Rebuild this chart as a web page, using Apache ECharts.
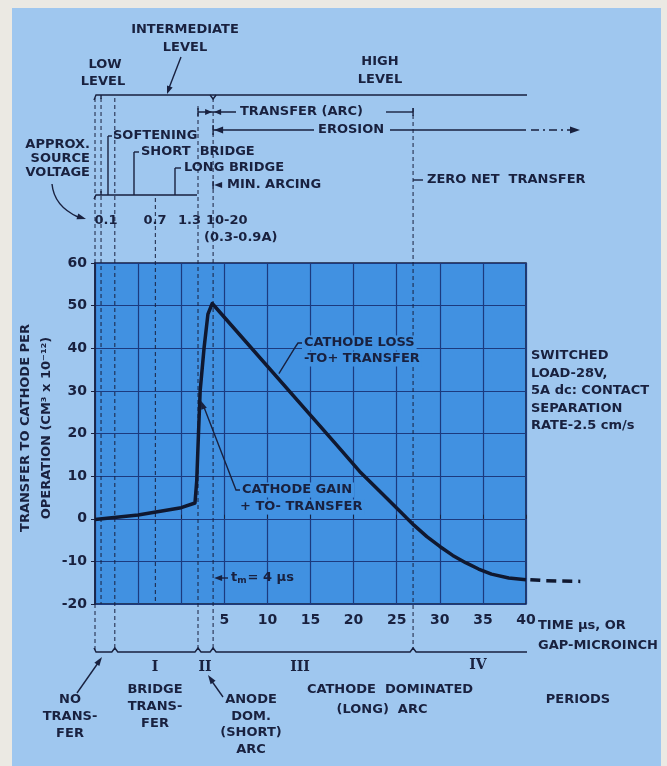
<!DOCTYPE html>
<html>
<head>
<meta charset="utf-8">
<script src="https://cdn.jsdelivr.net/npm/echarts@6/dist/echarts.min.js"></script>
<style>
html, body { margin: 0; padding: 0; background: #ebe9e3; }
#chart { width: 667px; height: 766px; }
</style>
</head>
<body>
<div id="chart"></div>
<script>
// transfer curve, x in axis units (the three left divisions stretch the first microseconds)
const curveX = [-10, -5, 0, 1.6, 1.8, 2.0, 2.2, 2.65, 3.1, 3.6, 18, 20.7, 23, 25.4, 27, 28.5, 30, 31.5, 33, 34.5, 36, 38, 40];
const curveY = [-0.2, 0.9, 2.6, 3.7, 8.8, 19.7, 30, 40, 48, 50.5, 17.4, 11.1, 6.5, 1.7, -1.5, -4.2, -6.5, -8.6, -10.3, -11.8, -13.0, -13.9, -14.3];
// dashed continuation past 40
const tailX = [40.5, 42, 44, 46.3];
const tailY = [-14.3, -14.5, -14.6, -14.7];

const xMin = -10, xMax = 40, xStep = 5, xFirstLabel = 5;
const yMin = -20, yMax = 60, yStep = 10;

// region boundaries (axis units): low level end, softening, 0.7V, 1.3V/bridge end, arc start, zero net transfer
const bLow = -9.3, bSoft = -7.7, b07 = -3.0, b13 = 1.95, bArc = 3.7, bZero = 26.9;

const INK = '#19213f';
const GRIDC = '#1c3a7e';
const PLOT = '#4191e1';
const PANEL = '#9fc7ef';
const OUTER = '#ebe9e3';
const FONT = '"DejaVu Sans", sans-serif';

const chart = echarts.init(document.getElementById('chart'));

chart.setOption({
    backgroundColor: PANEL,
    animation: false,
    grid: {
        left: 95, right: 141, top: 263, bottom: 162,
        show: true, backgroundColor: PLOT, borderColor: INK, borderWidth: 1.5
    },
    xAxis: {
        type: 'value', min: xMin, max: xMax, interval: xStep,
        axisLine: { show: false },
        axisTick: { show: true, inside: true, length: 4, lineStyle: { color: INK } },
        axisLabel: {
            color: INK, fontSize: 14, fontWeight: 'bold', fontFamily: FONT, margin: 9,
            formatter: v => v >= xFirstLabel ? String(v) : ''
        },
        splitLine: { show: true, lineStyle: { color: GRIDC, width: 1.2 } }
    },
    yAxis: {
        type: 'value', min: yMin, max: yMax, interval: yStep,
        axisLine: { show: true, onZero: false, lineStyle: { color: INK, width: 1.5 } },
        axisTick: { show: true, length: 4, lineStyle: { color: INK } },
        axisLabel: { color: INK, fontSize: 14, fontWeight: 'bold', fontFamily: FONT, margin: 8 },
        splitLine: { show: true, lineStyle: { color: GRIDC, width: 1.2 } }
    },
    series: [
        {
            type: 'line', z: 5, symbol: 'none',
            data: curveX.map((x, i) => [x, curveY[i]]),
            lineStyle: { color: '#10182f', width: 3.5, join: 'round' }
        }
    ]
});

const px = v => chart.convertToPixel({ xAxisIndex: 0 }, v);
const pt = (x, y) => chart.convertToPixel({ gridIndex: 0 }, [x, y]);

const g = [];
function txt(x, y, s, align, size, extra) {
    g.push({
        type: 'text', x: x, y: y, z: 20,
        style: Object.assign({
            text: s, fill: INK, font: 'bold ' + (size || 13) + 'px ' + FONT,
            align: align || 'left', verticalAlign: 'middle'
        }, extra || {})
    });
}
function poly(points, dash, w) {
    g.push({
        type: 'polyline', z: 12, shape: { points: points },
        style: { stroke: INK, fill: null, lineWidth: w || 1.4, lineDash: dash || null }
    });
}
function vdash(x, y1, y2) {
    g.push({
        type: 'line', z: 3, shape: { x1: x, y1: y1, x2: x, y2: y2 },
        style: { stroke: INK, lineWidth: 1, lineDash: [4, 3] }
    });
}
function head(tx, ty, fx, fy, len, w) {
    len = len || 8; w = w || 3;
    const dx = tx - fx, dy = ty - fy, d = Math.hypot(dx, dy);
    const ux = dx / d, uy = dy / d;
    const bx = tx - ux * len, by = ty - uy * len;
    g.push({
        type: 'polygon', z: 12,
        shape: { points: [[tx, ty], [bx - uy * w, by + ux * w], [bx + uy * w, by - ux * w]] },
        style: { fill: INK }
    });
}

// outer paper margins
g.push({ type: 'rect', z: 0, shape: { x: 0, y: 0, width: 12, height: 766 }, style: { fill: OUTER } });
g.push({ type: 'rect', z: 0, shape: { x: 0, y: 0, width: 667, height: 8 }, style: { fill: OUTER } });
g.push({ type: 'rect', z: 0, shape: { x: 661, y: 0, width: 6, height: 766 }, style: { fill: OUTER } });

const x0 = px(xMin), xLow = px(bLow), xSoft = px(bSoft), x07 = px(b07),
      x13 = px(b13), xArc = px(bArc), xZero = px(bZero), xEnd = px(xMax);
const yTop = pt(0, yMax)[1], yBot = pt(0, yMin)[1];

// dashed tail of the curve beyond the last grid line
g.push({
    type: 'polyline', z: 12, shape: { points: tailX.map((x, i) => pt(x, tailY[i])) },
    style: { stroke: '#10182f', fill: null, lineWidth: 3.5, lineDash: [10, 6] }
});

// vertical dashed region lines
vdash(x0, 98, yTop); vdash(x0, yBot, 650);
vdash(xLow, 98, yBot);
vdash(xSoft, 98, 650);
vdash(x07, 198, yBot);
vdash(x13, 106, 650);
vdash(xArc, 98, 650);
vdash(xZero, 108, 650);

// level bracket
poly([[x0 - 1, 100], [x0 + 1, 95], [xEnd + 1, 95]]);
poly([[xLow, 95], [xLow, 99]]);
poly([[xArc - 3, 95], [xArc, 99], [xArc + 3, 95]]);
txt(185, 30, 'INTERMEDIATE', 'center');
txt(185, 48, 'LEVEL', 'center');
poly([[181, 57], [169, 88]]);
head(167, 94, 181, 57);
txt(105, 65, 'LOW', 'center');
txt(103, 82, 'LEVEL', 'center');
txt(380, 62, 'HIGH', 'center');
txt(380, 80, 'LEVEL', 'center');

// transfer (arc) row
poly([[x13, 108], [x13, 116]]);
poly([[x13, 112], [236, 112]]);
head(xArc - 1, 112, x13, 112, 7, 3);
head(xArc + 1, 112, 236, 112, 7, 3);
txt(240, 112, 'TRANSFER (ARC)');
poly([[386, 112], [xZero, 112]]);
poly([[xZero, 108], [xZero, 116]]);

// erosion row
poly([[xArc, 125], [xArc, 135]]);
poly([[xArc, 130], [314, 130]]);
head(xArc + 1, 130, 314, 130, 9, 3.5);
txt(318, 130, 'EROSION');
poly([[390, 130], [xEnd, 130]]);
poly([[531, 130], [570, 130]], [8, 4, 2, 4]);
head(580, 130, 560, 130, 10, 3.5);

// voltage scale
poly([[x0 - 1, 199], [x0 + 1, 195], [x13 - 1, 195]]);
poly([[xLow, 195], [xLow, 191]]);
poly([[108, 136], [108, 195]]);
poly([[108, 136], [112, 136]]);
txt(113, 136, 'SOFTENING');
poly([[134, 152], [134, 195]]);
poly([[134, 152], [139, 152]]);
txt(141, 152, 'SHORT  BRIDGE');
poly([[175, 168], [175, 195]]);
poly([[175, 168], [181, 168]]);
txt(184, 168, 'LONG BRIDGE');
head(xArc + 1, 185, 226, 185, 8, 3);
poly([[xArc, 181], [xArc, 189]]);
txt(227, 185, 'MIN. ARCING');
poly([[xZero, 180], [423, 180]]);
txt(427, 180, 'ZERO NET  TRANSFER');

txt(90, 145, 'APPROX.', 'right');
txt(90, 159, 'SOURCE', 'right');
txt(90, 173, 'VOLTAGE', 'right');
g.push({
    type: 'bezierCurve', z: 12,
    shape: { x1: 52, y1: 184, x2: 78, y2: 217, cpx1: 54, cpy1: 206 },
    style: { stroke: INK, fill: null, lineWidth: 1.4 }
});
head(86, 219, 70, 214, 9, 3);

txt(106, 221, '0.1', 'center');
txt(155, 221, '0.7', 'center');
txt(201, 221, '1.3', 'right');
txt(206, 221, '10-20');
txt(204, 238, '(0.3-0.9A)');

// axis title
g.push({
    type: 'text', x: 36, y: 428, rotation: Math.PI / 2, z: 20,
    style: {
        text: 'TRANSFER TO CATHODE PER\nOPERATION (CM³ x 10⁻¹²)',
        fill: INK, font: 'bold 13px ' + FONT, align: 'center', verticalAlign: 'middle', lineHeight: 21
    }
});

// in-plot notes
const lossAt = pt(11.1, 33.6);
poly([[303, 343], [298, 343], [296, 346], [lossAt[0] + 2, lossAt[1] - 2]]);
txt(302, 343, 'CATHODE LOSS', 'left', 13, { backgroundColor: PLOT, padding: [1, 2] });
txt(302, 359, '-TO+ TRANSFER', 'left', 13, { backgroundColor: PLOT, padding: [1, 2] });

const gainAt = pt(2.15, 28);
poly([[240, 490], [236, 490], [gainAt[0] + 4, gainAt[1] + 7]]);
head(gainAt[0] + 1, gainAt[1] + 1, 236, 490, 9, 3);
txt(240, 490, 'CATHODE GAIN', 'left', 13, { backgroundColor: PLOT, padding: [1, 2] });
txt(238, 507, '+ TO- TRANSFER', 'left', 13, { backgroundColor: PLOT, padding: [1, 2] });

head(xArc + 1, 578, 228, 578, 8, 3);
poly([[xArc + 4, 578], [228, 578]]);
g.push({
    type: 'text', x: 231, y: 578, z: 20,
    style: {
        text: '{a|t}{s|m}{a|= 4 μs}', fill: INK, verticalAlign: 'middle',
        rich: {
            a: { fill: INK, font: 'bold 13px ' + FONT },
            s: { fill: INK, font: 'bold 9px ' + FONT, padding: [6, 1, 0, 0] }
        }
    }
});

// right notes
['SWITCHED', 'LOAD-28V,', '5A dc: CONTACT', 'SEPARATION', 'RATE-2.5 cm/s'].forEach((s, i) => {
    txt(531, 356 + i * 17.5, s);
});
txt(538, 626, 'TIME μs, OR');
txt(538, 646, 'GAP-MICROINCH');

// periods bracket
const yB = 652;
const bumpXs = [xSoft, x13, xArc, xZero];
const bpts = [[x0 - 1, yB - 4], [x0 + 1, yB]];
bumpXs.forEach(x => { bpts.push([x - 3, yB], [x, yB - 4], [x + 3, yB]); });
bpts.push([xEnd + 1, yB]);
poly(bpts);

const serif = { font: 'bold 14px "DejaVu Serif", serif' };
txt(155, 667, 'I', 'center', 14, serif);
txt(205, 667, 'II', 'center', 14, serif);
txt(300, 667, 'III', 'center', 14, serif);
txt(478, 665, 'IV', 'center', 14, serif);

txt(70, 700, 'NO', 'center');
txt(70, 717, 'TRANS-', 'center');
txt(70, 734, 'FER', 'center');
poly([[77, 693], [98, 663]]);
head(102, 657, 77, 693, 9, 3);

txt(155, 690, 'BRIDGE', 'center');
txt(155, 707, 'TRANS-', 'center');
txt(155, 724, 'FER', 'center');

txt(251, 700, 'ANODE', 'center');
txt(251, 717, 'DOM.', 'center');
txt(251, 733, '(SHORT)', 'center');
txt(251, 750, 'ARC', 'center');
poly([[223, 697], [211, 680]]);
head(208, 675, 223, 697, 9, 3);

txt(390, 690, 'CATHODE  DOMINATED', 'center');
txt(382, 710, '(LONG)  ARC', 'center');
txt(578, 700, 'PERIODS', 'center');

chart.setOption({ graphic: g });
</script>
</body>
</html>
